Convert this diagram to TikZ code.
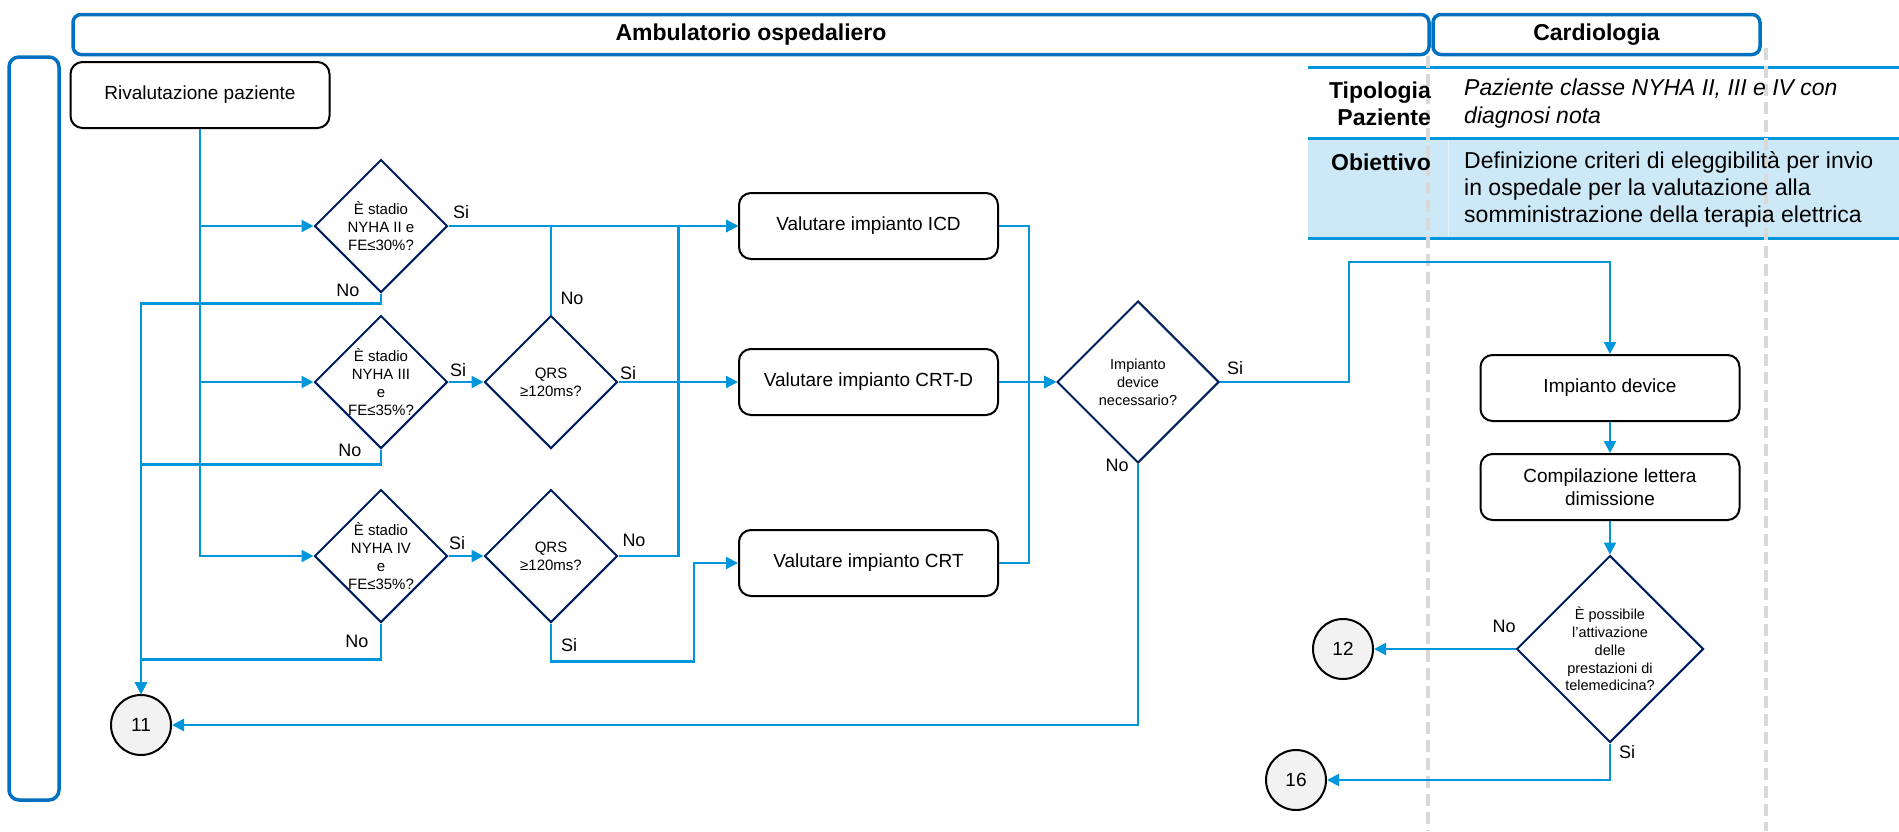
\documentclass[tikz,border=0pt]{standalone}
\usepackage{fontspec}
\setmainfont{Liberation Sans}
\usepackage{tikz}
\usetikzlibrary{arrows.meta, shapes.geometric, positioning, calc}

\definecolor{flowblue}{RGB}{0,150,220}
\definecolor{laneblue}{RGB}{0,112,192}
\definecolor{decnavy}{RGB}{0,32,96}
\definecolor{tablefill}{RGB}{205,232,246}
\definecolor{dashgray}{RGB}{217,217,217}
\definecolor{bubblegray}{RGB}{242,242,242}

\tikzset{
  lanehead/.style={
    rectangle, rounded corners=8pt,
    minimum height=40pt,
    text centered, font=\fontsize{23}{27}\selectfont\bfseries,
    draw=laneblue, line width=3.5pt, text=black
  },
  flowbox/.style={
    rectangle, rounded corners=12pt,
    minimum width=259pt, minimum height=66pt,
    align=center, font=\fontsize{19}{22.7}\selectfont,
    draw=black, line width=2pt, fill=white
  },
  decision/.style={
    diamond, aspect=1, inner sep=0pt,
    minimum width=#1, minimum height=#1,
    align=center, font=\fontsize{15}{18}\selectfont,
    draw=decnavy, line width=2pt, fill=white
  },
  decision/.default=133pt,
  bubble/.style={
    circle, minimum size=60pt, inner sep=0pt,
    font=\fontsize{19}{22}\selectfont,
    draw=black, line width=2pt, fill=bubblegray
  },
  flowarrow/.style={-{Triangle[length=12pt,width=12pt]}, line width=2.2pt, draw=flowblue},
  lbl/.style={font=\fontsize{18}{20}\selectfont, inner sep=0pt},
}

\begin{document}
\begin{tikzpicture}[
        x=1pt, y=-1pt,
        tabletext/.style={font=\fontsize{23}{27.3}\selectfont, inner sep=0pt},
        tablehead/.style={font=\fontsize{23}{27.3}\selectfont\bfseries, inner sep=0pt},
        lanedash/.style={draw=dashgray, line width=4pt, dash pattern=on 12pt off 6pt}
      ]
      \useasboundingbox (0,0) rectangle (1899,831);

      \fill[tablefill] (1308,138) rectangle (1899,238);
      \draw[tablefill!50!white, line width=1pt] (1448,138) -- (1448,238);
      \draw[flowblue, line width=3pt] (1308,67)  -- (1899,67);
      \draw[flowblue, line width=3pt] (1308,138) -- (1899,138);
      \draw[flowblue, line width=3pt] (1308,238) -- (1899,238);
      \draw[lanedash] (1428,56) -- (1428,831);
      \draw[lanedash] (1766,48) -- (1766,831);

      \node[lanehead, minimum width=1356pt](ambu)   at (751,34.5)    {Ambulatorio ospedaliero};
      \node[lanehead, minimum width=327pt] (cardio) at (1596.5,34.5) {Cardiologia};
      \node[draw=laneblue, line width=3.5pt, rounded corners=10pt,
            minimum width=50pt, minimum height=743pt](rail) at (34,428.5) {};

      \node[tablehead, anchor=east, align=right](tipoLbl) at (1431,103.5) {Tipologia\\Paziente};
      \node[tabletext, anchor=west, align=left, font=\fontsize{23}{27.3}\selectfont\itshape](tipoTxt)
           at (1464,103.5) {Paziente classe NYHA II, III e IV con\\diagnosi nota};
      \node[tablehead, anchor=east](obiLbl) at (1431,162) {Obiettivo};
      \node[tabletext, anchor=west, align=left](obiTxt) at (1464,189.5)
           {Definizione criteri di eleggibilità per invio\\in ospedale per la valutazione alla\\somministrazione della terapia elettrica};

      \node[flowbox]  (rival) at (200,95)  {Rivalutazione paziente};
      \node[decision] (nyha2) at (381,226) {È stadio\\NYHA II e\\FE≤30\%?};
      \node[decision] (nyha3) at (381,382) {È stadio\\NYHA III\\e\\FE≤35\%?};
      \node[decision] (nyha4) at (381,556) {È stadio\\NYHA IV\\e\\FE≤35\%?};
      \node[decision] (qrsA)  at (551,382) {QRS\\≥120ms?};
      \node[decision] (qrsB)  at (551,556) {QRS\\≥120ms?};

      \node[flowbox] (icd)  at (868.5,226) {Valutare impianto ICD};
      \node[flowbox] (crtd) at (868.5,382) {Valutare impianto CRT-D};
      \node[flowbox] (crt)  at (868.5,563) {Valutare impianto CRT};
      \node[decision=162pt, font=\fontsize{14.5}{18}\selectfont](device) at (1138,382)
           {Impianto\\device\\necessario?};

      \node[flowbox] (impl)   at (1610,388) {Impianto device};
      \node[flowbox] (compil) at (1610,487) {Compilazione lettera\\dimissione};
      \node[decision=187pt, font=\fontsize{14.5}{17.8}\selectfont](tele) at (1610,649)
           {È possibile\\l’attivazione\\delle\\prestazioni di\\telemedicina?};

      \node[bubble] (b11) at (141,725)  {11};
      \node[bubble] (b12) at (1343,649) {12};
      \node[bubble] (b16) at (1296,780) {16};

      \draw[flowarrow] (rival.south) |- (nyha2.west);
      \draw[flowarrow] (rival.south) |- (nyha3.west);
      \draw[flowarrow] (rival.south) |- (nyha4.west);

      \draw[flowarrow] (nyha2.east) -- (icd.west);
      \draw[flowarrow] (nyha3.east) -- (qrsA.west);
      \draw[flowarrow] (qrsA.east)  -- (crtd.west);
      \draw[flowarrow] (nyha4.east) -- (qrsB.west);
      \draw[flowarrow] (qrsA.north) |- (icd.west);
      \draw[flowarrow] (qrsB.east) -- ++(60,0) |- (icd.west);
      \draw[flowarrow] (qrsB.south) -- ++(0,38) -| ([xshift=-44pt]crt.west) -- (crt.west);

      \draw[flowarrow] (nyha2.south) -- ++(0,10) -| (b11.north);
      \draw[flowarrow] (nyha3.south) -- ++(0,15) -| (b11.north);
      \draw[flowarrow] (nyha4.south) -- ++(0,36) -| (b11.north);

      \draw[flowarrow] (icd.east) -- ++(30,0) |- (device.west);
      \draw[flowarrow] (crt.east) -- ++(30,0) |- (device.west);
      \draw[flowarrow] (crtd.east) -- (device.west);
      \draw[flowarrow] (device.south) |- (b11.east);

      \coordinate (upBend) at (1349,262);
      \draw[flowarrow] (device.east) -| (upBend) -| (impl.north);
      \draw[flowarrow] (impl.south) -- (compil.north);
      \draw[flowarrow] (compil.south) -- (tele.north);
      \draw[flowarrow] (tele.west) -- (b12.east);
      \draw[flowarrow] (tele.south) |- (b16.east);

      \node[lbl] (si2)  at (461,212)  {Si};
      \node[lbl] (no2)  at (348,290)  {No};
      \node[lbl] (noA)  at (572,298)  {No};
      \node[lbl] (si3)  at (458,370)  {Si};
      \node[lbl] (no3)  at (350,450)  {No};
      \node[lbl] (siA)  at (628,373)  {Si};
      \node[lbl] (si4)  at (457,543)  {Si};
      \node[lbl] (no4)  at (357,641)  {No};
      \node[lbl] (noB)  at (634,540)  {No};
      \node[lbl] (siB)  at (569,645)  {Si};
      \node[lbl] (siDev) at (1235,368) {Si};
      \node[lbl] (noDev) at (1117,465) {No};
      \node[lbl] (noTel) at (1504,626) {No};
      \node[lbl] (siTel) at (1627,752) {Si};
    \end{tikzpicture}
\end{document}
